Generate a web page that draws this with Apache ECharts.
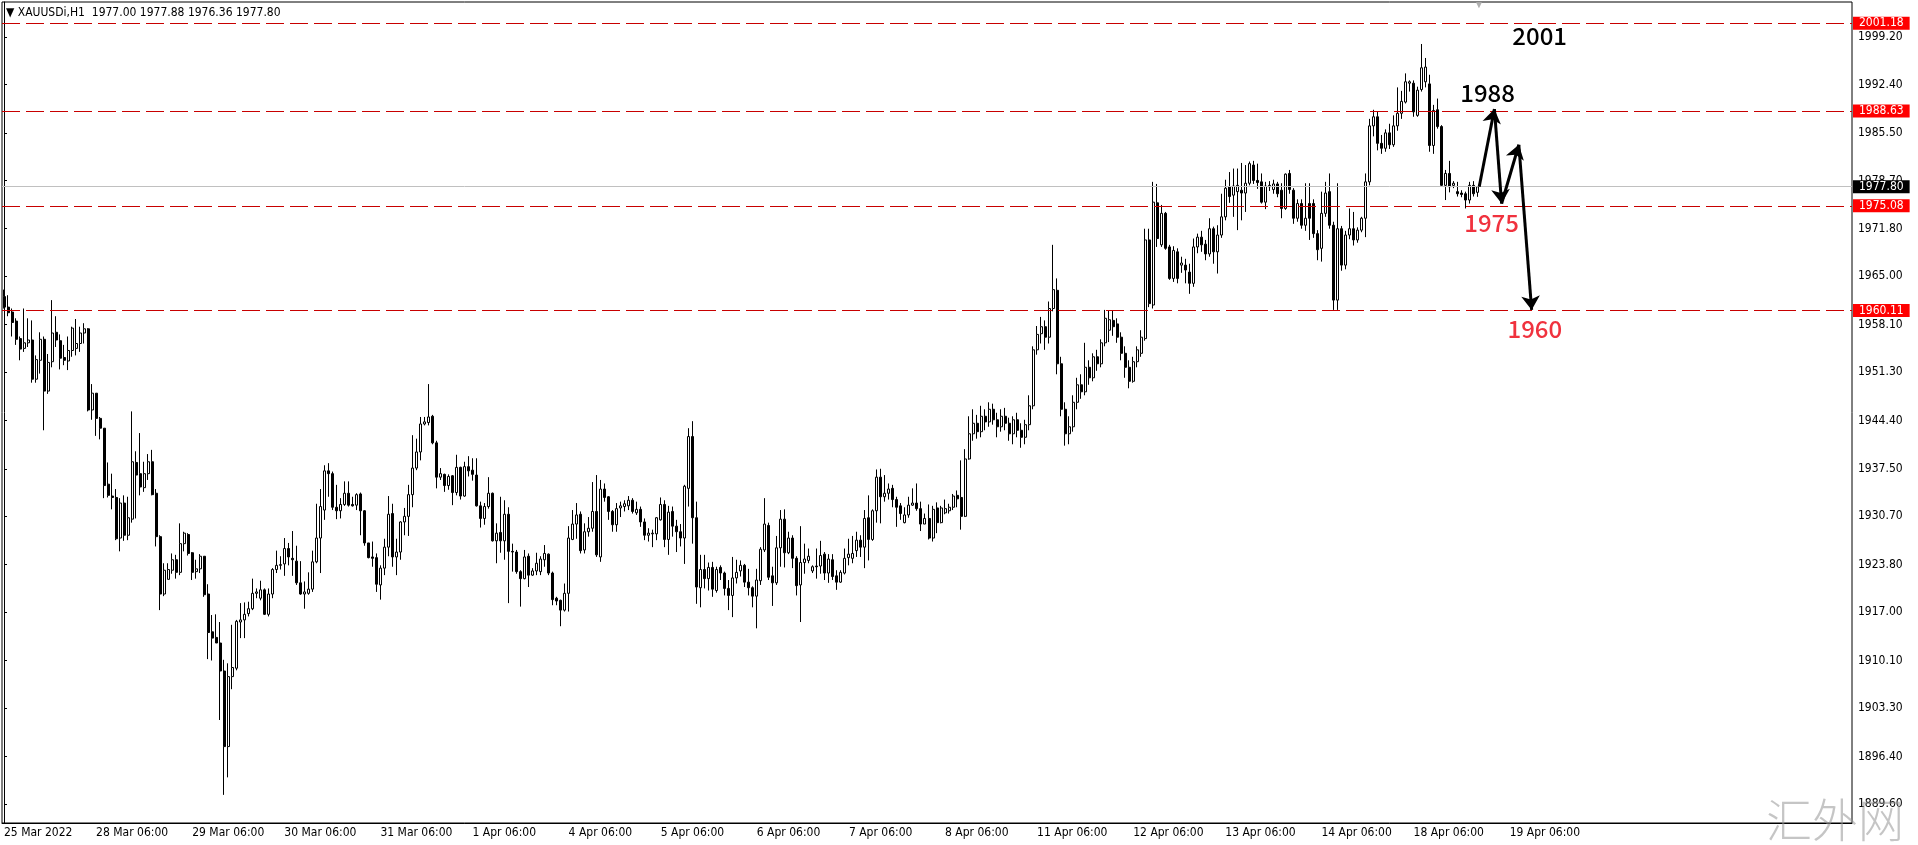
<!DOCTYPE html>
<html>
<head>
<meta charset="utf-8">
<title>XAUUSDi,H1</title>
<script src="https://cdn.jsdelivr.net/npm/echarts@6/dist/echarts.min.js"></script>
<style>
html, body { margin: 0; padding: 0; background: #fff; }
#main { width: 1918px; height: 845px; }
</style>
</head>
<body>
<div id="main"></div>
<script>
// chart data
const symbolName = 'XAUUSDi,H1';
const barSlots = 462;
const tickIdx = [0, 23, 47, 70, 94, 117, 141, 164, 188, 211, 235, 258, 282, 305, 329, 352, 376];
const tickText = ['25 Mar 2022', '28 Mar 06:00', '29 Mar 06:00', '30 Mar 06:00', '31 Mar 06:00', '1 Apr 06:00',
  '4 Apr 06:00', '5 Apr 06:00', '6 Apr 06:00', '7 Apr 06:00', '8 Apr 06:00', '11 Apr 06:00', '12 Apr 06:00',
  '13 Apr 06:00', '14 Apr 06:00', '18 Apr 06:00', '19 Apr 06:00'];
const priceTicks = [1889.60, 1896.40, 1903.30, 1910.10, 1917.00, 1923.80, 1930.70, 1937.50, 1944.40,
  1951.30, 1958.10, 1965.00, 1971.80, 1978.70, 1985.50, 1992.40, 1999.20];
const levels = [2001.18, 1988.63, 1975.08, 1960.11];
const bid = 1977.80;
const arrowPath = [[368.4, 1977.8], [372.2, 1988.9], [374.0, 1975.4], [378.3, 1983.8], [381.5, 1960.2]];
const notes = [['2001', 383.5, 1999.3], ['1988', 370.5, 1991.2], ['1975', 371.5, 1972.6], ['1960', 382.3, 1957.5]];

// [open, close, low, high]
const candles = [
  [1962.1,1960.6,1960.4,1963.1],[1960.6,1959.8,1959.3,1962.3],[1959.9,1958.4,1956.4,1960.4],[1958.6,1956.0,1955.2,1959.0],[1956.1,1954.6,1953.0,1956.4],
  [1954.7,1955.5,1954.2,1960.4],[1955.5,1955.9,1954.9,1959.0],[1955.9,1950.3,1949.8,1958.7],[1950.3,1953.1,1949.8,1953.7],[1953.0,1956.0,1951.1,1957.0],
  [1956.0,1948.6,1943.0,1956.4],[1948.6,1952.7,1948.2,1953.9],[1952.8,1956.9,1952.0,1961.6],[1957.0,1955.9,1954.9,1959.3],[1955.8,1953.3,1951.7,1956.7],
  [1953.4,1953.0,1952.3,1955.2],[1952.9,1954.4,1951.6,1956.4],[1954.4,1957.6,1953.5,1957.8],[1954.7,1955.4,1953.7,1958.9],[1955.4,1956.9,1954.2,1957.8],
  [1956.9,1957.5,1955.4,1958.3],[1957.5,1945.9,1945.7,1957.6],[1945.9,1948.3,1944.5,1949.6],[1948.3,1944.7,1942.2,1948.3],[1944.7,1943.3,1941.7,1944.9],
  [1943.3,1935.1,1933.3,1943.3],[1935.3,1933.7,1933.4,1938.4],[1933.6,1933.4,1931.7,1936.8],[1933.4,1927.5,1927.3,1934.6],[1927.6,1932.6,1925.7,1933.3],
  [1932.6,1928.0,1927.2,1933.7],[1928.0,1930.5,1927.3,1933.5],[1930.3,1938.5,1929.8,1945.7],[1938.4,1936.6,1930.4,1940.0],[1936.8,1934.9,1933.7,1942.6],
  [1934.8,1936.8,1934.2,1938.5],[1936.8,1938.5,1935.9,1939.6],[1938.5,1933.8,1933.7,1940.2],[1934.0,1927.8,1926.4,1934.6],[1927.8,1919.6,1917.3,1928.0],
  [1919.6,1923.0,1919.3,1924.0],[1921.7,1923.1,1921.7,1924.0],[1923.0,1924.5,1922.5,1925.4],[1924.5,1922.7,1921.8,1925.2],[1922.7,1926.8,1922.3,1929.7],
  [1926.8,1928.3,1925.7,1928.5],[1928.1,1925.4,1925.1,1928.3],[1925.5,1922.7,1921.6,1925.6],[1922.8,1923.2,1921.8,1924.5],[1923.2,1925.0,1922.6,1925.3],
  [1925.0,1919.5,1919.2,1925.0],[1919.6,1914.1,1910.3,1921.0],[1914.2,1913.3,1910.1,1916.6],[1913.4,1912.6,1912.6,1916.7],[1912.6,1908.6,1901.6,1915.6],
  [1908.6,1897.8,1890.9,1910.2],[1897.8,1907.8,1893.4,1909.7],[1907.8,1909.1,1906.0,1915.2],[1909.0,1915.7,1908.7,1915.9],[1915.6,1915.9,1913.3,1918.3],
  [1915.9,1916.7,1913.3,1918.4],[1916.8,1917.5,1916.4,1918.5],[1917.5,1919.7,1917.3,1921.8],[1919.7,1919.9,1919.0,1920.4],[1919.0,1920.2,1918.7,1921.5],
  [1920.2,1916.7,1916.6,1920.4],[1916.7,1919.6,1916.4,1920.4],[1919.6,1923.1,1919.0,1923.3],[1923.1,1923.7,1922.6,1925.8],[1923.7,1923.8,1923.1,1925.0],
  [1923.9,1926.1,1922.2,1927.6],[1926.1,1924.9,1923.7,1926.9],[1924.7,1924.5,1922.2,1928.6],[1924.3,1921.2,1920.9,1926.5],[1921.2,1919.6,1919.5,1924.3],
  [1919.6,1919.9,1917.5,1921.4],[1919.7,1920.3,1919.5,1922.7],[1920.3,1924.2,1919.9,1925.8],[1924.2,1927.6,1924.0,1932.5],[1927.6,1932.1,1922.6,1934.6],
  [1931.6,1937.2,1930.2,1938.0],[1937.2,1936.8,1933.5,1938.3],[1936.8,1932.0,1931.6,1937.1],[1932.0,1931.5,1930.3,1935.2],[1931.5,1932.4,1930.4,1933.3],
  [1932.4,1934.0,1932.2,1935.7],[1934.0,1932.3,1932.1,1935.7],[1932.4,1932.2,1932.1,1933.5],[1932.3,1933.8,1931.6,1934.0],[1933.9,1931.5,1928.0,1934.1],
  [1931.5,1926.9,1926.5,1931.6],[1926.9,1924.8,1924.7,1926.9],[1924.9,1924.7,1923.5,1927.1],[1924.8,1921.0,1919.9,1925.4],[1920.9,1923.3,1918.8,1923.7],
  [1923.3,1926.3,1922.3,1927.5],[1926.3,1931.0,1925.0,1933.6],[1931.1,1924.9,1923.5,1932.5],[1924.9,1925.6,1922.3,1927.5],[1925.6,1929.9,1924.5,1930.0],
  [1929.9,1930.7,1928.0,1931.9],[1930.7,1933.8,1927.9,1935.2],[1933.8,1937.6,1932.0,1942.3],[1937.6,1939.9,1937.3,1941.8],[1939.9,1943.9,1938.7,1944.9],
  [1943.9,1944.2,1943.7,1944.9],[1944.1,1944.9,1943.7,1949.6],[1945.0,1941.2,1941.0,1945.2],[1941.2,1936.3,1934.7,1941.5],[1936.3,1936.8,1935.9,1937.6],
  [1936.7,1935.1,1934.2,1936.8],[1935.1,1936.4,1934.5,1936.7],[1936.5,1934.1,1932.3,1936.6],[1934.1,1937.7,1933.7,1939.5],[1937.7,1933.6,1933.1,1937.8],
  [1933.6,1937.8,1933.5,1938.5],[1937.8,1937.2,1936.4,1939.3],[1937.3,1936.7,1935.8,1939.0],[1936.6,1932.2,1932.1,1939.0],[1932.2,1930.4,1929.1,1932.8],
  [1930.4,1932.1,1929.5,1932.6],[1932.1,1934.0,1931.8,1936.3],[1934.0,1927.2,1927.1,1934.1],[1927.2,1928.3,1924.0,1929.7],[1928.4,1927.2,1925.5,1933.5],
  [1927.2,1931.0,1924.5,1933.0],[1931.0,1925.7,1918.3,1932.0],[1925.7,1925.6,1922.8,1926.8],[1925.6,1922.8,1922.5,1925.9],[1922.8,1921.8,1917.8,1923.0],
  [1921.8,1924.9,1921.7,1925.9],[1925.0,1922.3,1920.6,1925.4],[1922.3,1922.9,1922.2,1923.3],[1922.9,1924.0,1922.3,1925.5],[1922.8,1924.6,1922.3,1925.0],
  [1924.5,1925.4,1923.5,1926.6],[1925.3,1922.6,1922.3,1925.4],[1922.6,1918.8,1918.0,1922.8],[1919.0,1918.6,1918.0,1919.2],[1918.7,1917.3,1915.0,1918.8],
  [1917.3,1919.7,1917.1,1921.1],[1919.7,1927.6,1917.1,1929.3],[1927.4,1929.6,1927.3,1931.6],[1929.6,1930.9,1927.5,1932.6],[1931.0,1925.8,1925.4,1931.4],
  [1925.9,1928.5,1925.4,1929.7],[1928.5,1929.0,1927.8,1930.6],[1929.0,1931.4,1928.5,1935.6],[1931.4,1925.2,1924.9,1936.6],[1924.9,1934.6,1924.2,1935.9],
  [1934.6,1933.4,1932.8,1935.4],[1933.5,1931.4,1930.2,1933.6],[1931.4,1929.5,1928.5,1931.6],[1929.5,1931.8,1928.5,1932.6],[1931.9,1932.2,1930.6,1932.8],
  [1932.1,1932.5,1931.4,1933.0],[1932.2,1933.0,1931.6,1933.6],[1933.0,1931.4,1931.1,1933.3],[1931.2,1931.7,1930.9,1932.8],[1931.7,1929.9,1929.2,1932.1],
  [1929.9,1928.0,1927.3,1930.4],[1928.0,1928.3,1927.1,1929.0],[1928.2,1928.3,1926.3,1928.8],[1928.2,1930.5,1927.3,1930.6],[1930.2,1932.4,1930.1,1933.4],
  [1932.4,1927.4,1926.3,1933.0],[1927.4,1931.3,1925.2,1932.2],[1931.4,1929.3,1927.8,1932.1],[1929.3,1928.5,1925.6,1930.2],[1928.5,1927.6,1926.4,1929.6],
  [1927.6,1935.0,1923.9,1935.2],[1934.7,1942.1,1932.1,1943.3],[1942.1,1930.5,1926.8,1944.3],[1930.5,1920.6,1918.2,1932.8],[1920.5,1923.1,1917.7,1925.2],
  [1923.1,1921.8,1920.4,1925.2],[1921.8,1923.4,1920.1,1924.1],[1923.4,1920.3,1919.2,1924.2],[1920.1,1923.1,1919.8,1923.5],[1923.4,1922.6,1921.6,1923.7],
  [1922.6,1920.4,1919.4,1922.8],[1920.4,1919.4,1917.3,1921.6],[1919.4,1921.9,1916.3,1924.9],[1921.9,1922.7,1921.1,1924.5],[1922.9,1923.7,1922.1,1924.4],
  [1923.7,1921.3,1920.6,1923.9],[1921.3,1920.5,1919.4,1923.2],[1920.5,1919.3,1917.7,1920.7],[1919.3,1921.6,1914.7,1923.2],[1921.5,1926.0,1920.9,1926.3],
  [1925.9,1929.6,1925.6,1933.3],[1929.4,1922.0,1921.6,1929.8],[1922.2,1921.2,1917.9,1923.5],[1921.2,1926.2,1920.9,1927.9],[1926.2,1930.3,1923.5,1931.6],
  [1930.3,1925.5,1923.4,1931.7],[1925.5,1927.6,1925.3,1928.5],[1927.6,1924.7,1923.3,1928.0],[1924.7,1920.8,1919.4,1925.0],[1920.9,1924.1,1915.6,1929.3],
  [1924.1,1924.6,1922.5,1926.8],[1924.4,1925.0,1924.0,1926.1],[1922.9,1923.5,1922.6,1923.7],[1923.6,1923.5,1921.8,1926.1],[1923.6,1925.1,1922.5,1927.2],
  [1925.3,1922.6,1921.6,1925.6],[1922.6,1924.6,1921.2,1925.3],[1924.5,1922.1,1921.6,1925.3],[1922.2,1921.3,1920.2,1923.0],[1921.3,1922.7,1921.2,1923.0],
  [1922.6,1924.7,1922.4,1926.1],[1924.8,1925.3,1923.7,1927.5],[1924.7,1925.4,1924.0,1927.9],[1925.8,1927.3,1924.9,1928.5],[1927.3,1926.3,1924.9,1928.0],
  [1926.3,1930.4,1923.3,1931.6],[1930.5,1927.4,1924.4,1933.7],[1927.4,1931.5,1927.2,1931.7],[1931.5,1936.3,1929.8,1937.4],[1936.3,1933.5,1929.7,1937.5],
  [1933.5,1934.0,1932.8,1936.6],[1934.0,1934.6,1933.1,1935.4],[1934.7,1933.1,1932.0,1935.2],[1933.1,1932.0,1929.2,1933.5],[1932.2,1931.1,1930.2,1932.6],
  [1929.8,1930.9,1929.7,1932.0],[1930.9,1932.3,1930.5,1933.5],[1932.3,1932.6,1932.2,1934.7],[1932.6,1931.8,1931.5,1935.4],[1931.8,1929.6,1928.6,1932.8],
  [1929.6,1930.4,1929.6,1931.1],[1930.4,1927.6,1927.4,1932.4],[1927.6,1931.7,1927.1,1932.2],[1931.9,1929.8,1928.3,1932.7],[1929.8,1931.9,1929.7,1932.2],
  [1931.2,1931.8,1931.0,1933.1],[1931.5,1932.0,1931.1,1932.5],[1932.0,1933.6,1931.6,1933.9],[1933.7,1933.2,1932.0,1934.4],[1933.4,1930.7,1928.8,1938.7],
  [1930.7,1938.9,1930.6,1940.3],[1938.9,1942.5,1938.8,1945.0],[1942.5,1944.0,1941.5,1946.0],[1944.0,1942.8,1941.8,1945.2],[1942.8,1945.0,1942.0,1946.5],
  [1945.0,1944.2,1943.0,1946.0],[1944.2,1946.0,1943.5,1947.0],[1946.0,1944.5,1943.8,1946.8],[1944.5,1943.5,1942.0,1945.5],[1943.5,1945.0,1942.8,1946.0],
  [1945.0,1944.0,1943.0,1946.2],[1944.0,1942.5,1941.5,1944.8],[1942.5,1944.5,1941.0,1945.0],[1944.5,1943.0,1942.0,1945.5],[1943.0,1942.0,1940.5,1944.0],
  [1942.0,1943.8,1941.0,1944.5],[1943.8,1946.5,1943.0,1948.0],[1946.5,1954.5,1946.0,1955.0],[1954.5,1956.7,1953.8,1957.9],[1956.8,1957.8,1955.4,1959.2],
  [1957.8,1956.3,1954.5,1958.7],[1956.3,1960.4,1955.4,1961.4],[1960.4,1963.1,1960.0,1969.5],[1963.0,1952.5,1951.0,1964.7],[1952.5,1946.0,1945.0,1953.5],
  [1946.0,1942.5,1940.8,1947.0],[1942.5,1943.5,1941.0,1945.0],[1943.5,1947.0,1942.8,1948.0],[1947.0,1949.5,1946.0,1950.5],[1949.5,1948.5,1947.5,1951.0],
  [1948.5,1952.0,1948.0,1955.5],[1952.0,1950.5,1949.5,1953.0],[1950.5,1953.5,1950.0,1954.0],[1953.5,1952.5,1951.5,1954.5],[1952.5,1955.5,1952.0,1956.0],
  [1955.5,1959.0,1955.0,1960.2],[1957.3,1958.8,1955.6,1960.1],[1958.7,1957.8,1956.5,1960.1],[1958.2,1956.3,1955.5,1959.0],[1956.3,1954.0,1953.0,1957.0],
  [1954.0,1952.0,1950.5,1955.0],[1952.0,1950.0,1949.0,1953.0],[1950.0,1952.8,1949.8,1953.5],[1952.8,1954.5,1952.0,1955.0],[1954.0,1956.3,1953.5,1957.3],
  [1956.1,1970.2,1955.8,1971.8],[1970.2,1961.1,1960.6,1971.8],[1960.9,1975.6,1960.4,1978.5],[1975.5,1970.4,1969.2,1978.2],[1969.5,1974.0,1969.2,1975.2],
  [1974.0,1969.0,1968.8,1974.2],[1969.2,1964.7,1964.5,1969.5],[1964.7,1968.7,1964.2,1969.3],[1968.5,1964.7,1964.0,1969.0],[1966.6,1966.9,1965.5,1967.8],
  [1966.6,1965.9,1964.0,1967.5],[1965.6,1964.0,1962.5,1966.8],[1964.0,1969.2,1963.5,1970.4],[1969.2,1970.6,1968.3,1971.1],[1970.6,1969.5,1968.5,1971.5],
  [1969.6,1968.2,1967.3,1970.2],[1968.2,1971.8,1967.8,1973.3],[1971.8,1968.5,1966.8,1972.1],[1968.5,1970.9,1965.4,1972.3],[1970.9,1973.5,1970.5,1976.8],
  [1973.5,1977.6,1973.0,1978.8],[1977.8,1976.4,1975.5,1979.9],[1976.6,1977.9,1973.5,1980.4],[1977.1,1978.0,1971.6,1980.4],[1977.3,1976.9,1973.0,1981.2],
  [1976.9,1978.3,1974.2,1980.9],[1978.3,1981.1,1978.0,1981.4],[1980.9,1978.7,1978.2,1981.5],[1978.7,1978.4,1977.5,1981.1],[1978.5,1975.6,1975.4,1979.7],
  [1975.6,1977.9,1974.6,1978.5],[1977.8,1978.0,1977.2,1978.6],[1977.4,1978.2,1976.8,1978.8],[1978.2,1976.8,1976.3,1978.5],[1977.3,1974.7,1973.3,1978.3],
  [1974.7,1979.6,1974.5,1979.7],[1979.7,1977.4,1976.8,1980.2],[1977.3,1973.3,1972.5,1977.6],[1973.3,1975.4,1972.8,1976.0],[1975.4,1972.3,1971.8,1976.0],
  [1972.3,1973.3,1971.5,1978.3],[1975.4,1973.3,1970.2,1978.3],[1975.4,1971.1,1970.5,1976.0],[1971.1,1968.8,1967.3,1971.6],[1969.0,1974.0,1967.1,1977.1],
  [1974.0,1976.9,1973.5,1978.5],[1977.1,1972.3,1971.8,1979.7],[1972.3,1961.6,1960.2,1972.8],[1961.6,1971.8,1960.2,1978.3],[1971.8,1966.6,1965.8,1972.2],
  [1966.6,1970.9,1966.0,1971.5],[1970.9,1971.8,1970.3,1974.7],[1971.8,1970.2,1969.4,1974.2],[1970.2,1971.6,1969.8,1972.0],[1971.6,1973.3,1971.3,1973.5],
  [1973.3,1978.5,1970.6,1979.7],[1978.5,1986.5,1978.0,1987.5],[1986.5,1987.8,1985.0,1988.8],[1987.8,1984.0,1983.0,1988.5],[1984.0,1983.3,1982.5,1985.2],
  [1983.3,1985.5,1982.8,1986.0],[1985.5,1983.8,1983.2,1986.8],[1983.8,1986.5,1983.5,1988.0],[1986.5,1988.3,1985.8,1992.0],[1988.3,1990.0,1987.5,1991.5],
  [1989.9,1992.8,1989.7,1994.0],[1992.6,1992.8,1991.4,1993.0],[1992.6,1988.5,1987.8,1993.0],[1988.0,1991.6,1987.8,1992.1],[1991.7,1994.8,1991.4,1998.2],
  [1992.8,1994.9,1992.0,1996.2],[1992.5,1983.7,1982.8,1993.8],[1983.7,1988.7,1982.5,1989.5],[1988.8,1986.4,1986.1,1990.4],[1986.4,1978.0,1977.8,1986.6],
  [1978.0,1979.7,1975.9,1980.2],[1979.7,1977.8,1977.0,1981.5],[1978.0,1978.3,1977.6,1978.6],[1977.1,1976.8,1976.4,1978.5],[1976.9,1976.7,1976.3,1977.3],
  [1976.8,1975.9,1974.7,1977.1],[1975.9,1978.0,1975.4,1978.5],[1978.0,1976.8,1976.4,1978.6],[1977.00,1977.80,1976.36,1977.88]
];

const chart = echarts.init(document.getElementById('main'));
const categories = [];
for (let i = 0; i < barSlots; i++) categories.push(String(i));

const mtFont = '"DejaVu Sans Condensed", "DejaVu Sans", sans-serif';
const noteFont = '"Noto Sans CJK SC", "Noto Sans", sans-serif';
const last = candles[candles.length - 1];
const header = '\u25BC ' + symbolName + '  ' +
  [last[0], last[3], last[2], last[1]].map(v => v.toFixed(2)).join(' ');

const levelLines = levels.map(v => ({
  yAxis: v,
  lineStyle: { color: '#c80000', type: [18, 6], width: 1 },
  label: { backgroundColor: '#ff0000' }
}));
levelLines.push({
  yAxis: bid,
  lineStyle: { color: '#c0c0c0', type: 'solid', width: 1 },
  label: { backgroundColor: '#000000' }
});

const segs = [];
for (let i = 0; i < arrowPath.length - 1; i++) {
  segs.push({ coords: [arrowPath[i], arrowPath[i + 1]] });
}

const isTick = (i) => tickIdx.indexOf(i) >= 0;

const option = {
  animation: false,
  backgroundColor: '#ffffff',
  title: {
    text: header,
    left: 1,
    top: 2,
    textStyle: { fontSize: 12, fontWeight: 'normal', fontFamily: mtFont, color: '#000' }
  },
  grid: {
    left: 2, right: 66, top: 2, bottom: 22,
    show: true, borderColor: '#000', borderWidth: 1, backgroundColor: '#fff'
  },
  xAxis: [
    {
      type: 'category',
      data: categories,
      boundaryGap: true,
      axisLine: { lineStyle: { color: '#000', width: 1 } },
      axisTick: { alignWithLabel: true, length: 4, interval: isTick, lineStyle: { color: '#000' } },
      axisLabel: {
        interval: isTick,
        formatter: (v, i) => tickText[tickIdx.indexOf(i)] || '',
        align: 'left',
        margin: 4,
        color: '#000',
        fontSize: 12,
        fontFamily: mtFont
      },
      splitLine: { show: false }
    },
    { type: 'value', min: -0.5, max: barSlots - 0.5, show: false }
  ],
  yAxis: {
    type: 'value',
    position: 'right',
    min: 1886.88,
    max: 2004.2,
    axisLine: { show: true, lineStyle: { color: '#000' } },
    axisTick: { show: true, length: 3, customValues: priceTicks, lineStyle: { color: '#000' } },
    axisLabel: {
      customValues: priceTicks,
      formatter: v => v.toFixed(2),
      margin: 6,
      color: '#000',
      fontSize: 12,
      fontFamily: mtFont
    },
    splitLine: { show: false }
  },
  graphic: [
    {
      type: 'text', left: 1474, top: 0, silent: true,
      style: { text: '\u25BC', fill: '#b0b0b0', font: '10px sans-serif' }
    },
    {
      type: 'text', right: 14, bottom: 2, z: 100, silent: true,
      style: { text: '汇外网', fill: 'rgba(150,150,150,0.55)', font: '300 46px "Noto Sans CJK SC"' }
    }
  ],
  series: [
    {
      name: symbolName,
      type: 'candlestick',
      data: candles,
      barWidth: 2.5,
      itemStyle: {
        color: '#ffffff',
        color0: '#000000',
        borderColor: '#000000',
        borderColor0: '#000000',
        borderWidth: 1
      },
      emphasis: { disabled: true },
      markLine: {
        silent: true,
        symbol: 'none',
        animation: false,
        label: {
          show: true,
          position: 'end',
          distance: 1,
          formatter: p => p.value.toFixed(2),
          color: '#fff',
          fontSize: 12,
          fontFamily: mtFont,
          padding: [1, 6, 0, 6]
        },
        data: levelLines
      }
    },
    {
      type: 'lines',
      coordinateSystem: 'cartesian2d',
      xAxisIndex: 1,
      yAxisIndex: 0,
      silent: true,
      symbol: ['none', 'arrow'],
      symbolSize: 14,
      lineStyle: { color: '#000', width: 3, opacity: 1 },
      data: segs,
      z: 5
    },
    {
      type: 'scatter',
      xAxisIndex: 1,
      yAxisIndex: 0,
      silent: true,
      symbolSize: 1,
      itemStyle: { color: 'rgba(0,0,0,0)' },
      data: notes.map((n, i) => ({
        value: [n[1], n[2]],
        label: {
          show: true,
          position: 'inside',
          formatter: n[0],
          fontSize: 24,
          fontWeight: 500,
          fontFamily: noteFont,
          opacity: 1,
          textBorderWidth: 0,
          color: i < 2 ? '#000000' : '#f0323e'
        }
      })),
      z: 6
    }
  ]
};

chart.setOption(option);
</script>
</body>
</html>
